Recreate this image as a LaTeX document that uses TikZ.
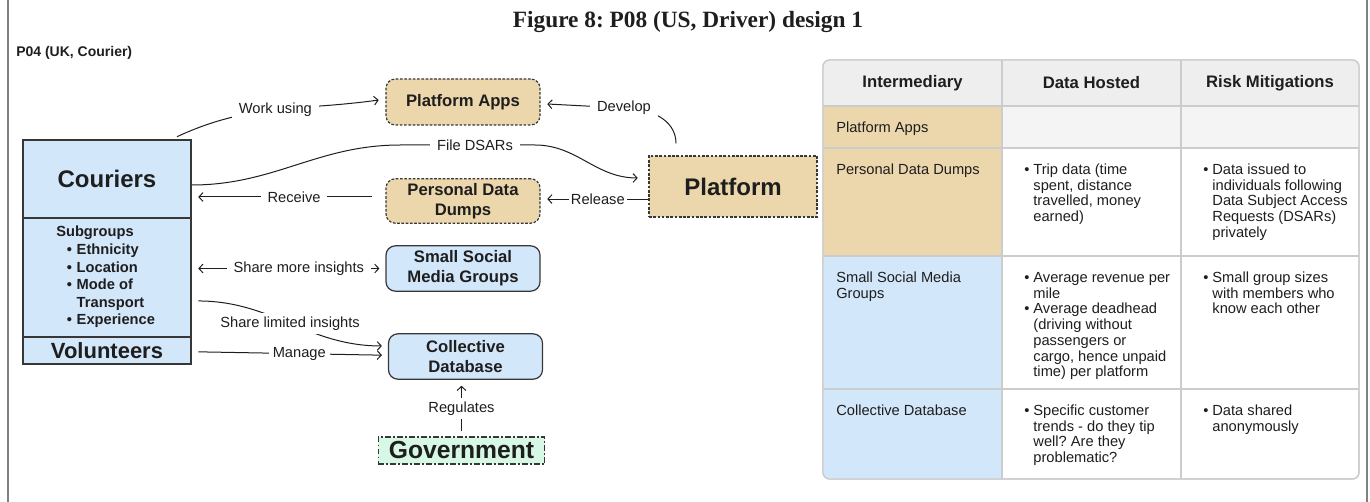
\documentclass[tikz,border=0pt]{standalone}
\usepackage{fontspec}
\setmainfont{Liberation Sans}
\newfontfamily\serifbold{Liberation Serif}
\usetikzlibrary{arrows.meta}
\frenchspacing

\definecolor{tanfill}{RGB}{236,214,172}
\definecolor{bluefill}{RGB}{211,231,250}
\definecolor{mintfill}{RGB}{214,248,228}
\definecolor{headgray}{RGB}{238,238,238}
\definecolor{rowgray}{RGB}{244,244,244}
\definecolor{gridgray}{RGB}{204,204,204}
\definecolor{ink}{RGB}{30,30,30}
\definecolor{boxline}{RGB}{55,55,55}

\begin{document}
\begin{tikzpicture}[x = 0.75pt, y = -0.75pt,
  >={Straight Barb[length=3pt, width=6.5pt]},
  link/.style = {->, line width=0.75pt, ink},
  twoway/.style = {<->, line width=0.75pt, ink},
  lbl/.style = {fill =white, inner xsep=5pt, inner ysep=3pt, text=ink, font=\fontsize{11}{13}\selectfont},
  tanbox/.style = {draw =boxline, line width=0.9pt, dash pattern=on 2pt off 1.2pt, fill =tanfill, text=ink, align=center, font=\fontsize{12.5}{15}\selectfont\bfseries},
  bluebox/.style = {draw =boxline, line width=0.9pt, fill =bluefill, rounded corners=7pt, text=ink, align=center, font=\fontsize{12.5}{15}\selectfont\bfseries, minimum width=115.5pt, minimum height=34pt},
  courbox/.style = {draw =boxline, line width=0.9pt, fill =bluefill, text=ink, minimum width=126pt, inner sep=0pt},
  headcell/.style = {text=ink, font=\fontsize{12.5}{14}\selectfont\bfseries},
  cell/.style = {anchor=base west, inner sep=0pt, text=ink, font=\fontsize{11}{11.8}\selectfont}]
\useasboundingbox (0,0) rectangle (1370,502);
\draw [gray, line width=1.5pt] (8,0) -- (8,502) (1367,0) -- (1367,502);

\node [text=ink, font=\serifbold\fontsize{17.5}{20}\selectfont\bfseries] (title) at (688,22) {Figure 8: P08 (US, Driver) design 1};
\node [anchor=west, inner sep=0pt, text=ink, font=\fontsize{10.5}{12}\selectfont\bfseries] (part) at (16,53) {P04 (UK, Courier)};

\node [courbox, minimum height=58.5pt, font=\fontsize{18}{20}\selectfont\bfseries] (cour) at (107,179) {Couriers};
\node [courbox, minimum height=89.25pt] (subg) at (107,277.5) {};
\node [courbox, minimum height=20.25pt, font=\fontsize{16.5}{18}\selectfont\bfseries] (vol) at (107,350.5) {Volunteers};
\node [anchor=base west, inner sep=0pt, text=ink, font=\fontsize{11}{13.2}\selectfont\bfseries] (subtxt) at (56,237) {\begin{tabular}[t]{@{\hspace{8pt}}l@{\hspace{3.5pt}}l@{}}
\multicolumn{2}{@{}l@{}}{Subgroups}\\
\textbullet & Ethnicity\\
\textbullet & Location\\
\textbullet & Mode of\\
 & Transport\\
\textbullet & Experience
\end{tabular}};

\node [tanbox, rounded corners=7pt, minimum width=115.5pt, minimum height=34.5pt] (apps) at (463,102) {Platform Apps};
\node [tanbox, rounded corners=7pt, minimum width=115.5pt, minimum height=33pt] (dumps) at (463,201) {Personal Data\\Dumps};
\node [tanbox, minimum width=126pt, minimum height=45.75pt, font=\fontsize{18}{20}\selectfont\bfseries] (plat) at (733,186.5) {Platform};
\node [bluebox] (social) at (463,268.5) {Small Social\\Media Groups};
\node [bluebox] (base) at (465.5,356.5) {Collective\\Database};
\node [draw =boxline, line width=0.8pt, dash pattern=on 4pt off 2pt on 1pt off 2pt, fill =mintfill, minimum width=125pt, minimum height=20.25pt, inner sep=0pt, text=ink, font=\fontsize{18.5}{20}\selectfont\bfseries] (gov) at (461.5,450.5) {Government};

\draw [link] ([xshift=52.5pt, yshift=2pt]cour.north) to [out=25, in=188] node [lbl] (worklbl) {Work using} ([xshift=-5pt, yshift=1.5pt]apps.west);
\coordinate (dsar) at (475,145);
\draw [link] ([yshift=-4.5pt]cour.east) to [out=0, in=180] ([xshift=-56pt]dsar) -- ([xshift=45pt]dsar) to [out=0, in=180] ([xshift=-8pt, yshift=6.4pt]plat.west);
\node [lbl] (dsarlbl) at (dsar) {File DSARs};
\coordinate (recv) at ([xshift=-9.75pt, yshift=3pt]dumps.west);
\draw [link] (recv) -- node [lbl, pos=0.45] (recvlbl) {Receive} ([xshift=5pt]cour.east |- recv);
\coordinate (rel) at ([yshift=-9.4pt]plat.west);
\draw [link] (rel) -- node [lbl, inner xsep=1.5pt] (rellbl) {Release} ([xshift=5pt]dumps.east |- rel);
\coordinate (dev) at (624,108);
\draw [link] ([xshift=-42.75pt, yshift=9pt]plat.north) to [out=90, in=0] (dev) -- ([xshift=5pt, yshift=-1.5pt]apps.east);
\node [lbl] (devlbl) at (dev) {Develop};
\draw [twoway] ([xshift=5pt]subg.east |- social.west) -- node [lbl, pos=0.555] (morelbl) {Share more insights} ([xshift=-4.5pt]social.west);
\draw [link] ([xshift=5pt, yshift=-17.6pt]subg.east) to [out=0, in=180] node [lbl] (limlbl) {Share limited insights} ([xshift=-4.5pt, yshift=7.9pt]base.west);
\draw [link] ([xshift=5pt, yshift=-1pt]vol.east) -- node [lbl, inner xsep=3pt, pos=0.55] (manlbl) {Manage} ([xshift=-4.5pt, yshift=1pt]base.west);
\draw [link] ([yshift=3.75pt]gov.north) -- node [lbl] (reglbl) {Regulates} ([yshift=-4.5pt]base.south -| gov.north);

\draw [fill =white, draw =gridgray, line width=1pt, rounded corners=5pt] (823,60) rectangle (1359,479);
\begin{scope}
\clip [rounded corners=5pt] (823,60) rectangle (1359,479);
\fill [headgray] (823,60) rectangle (1359,106);
\fill [rowgray] (1002,106) rectangle (1359,148);
\fill [tanfill] (823,106) rectangle (1002,256);
\fill [bluefill] (823,256) rectangle (1002,479);
\end{scope}
\foreach \y in {106,148,256,389} \draw [gridgray, line width=1pt] (823,\y) -- (1359,\y);
\foreach \x in {1002,1181} \draw [gridgray, line width=1pt] (\x,60) -- (\x,479);
\draw [gridgray, line width=1pt, rounded corners=5pt] (823,60) rectangle (1359,479);

\node [headcell] (hint) at (912.5,83) {Intermediary};
\node [headcell] (hdata) at (1091.5,83) {Data Hosted};
\node [headcell] (hrisk) at (1270,83) {Risk Mitigations};

\node [cell] (capps) at (836,132.5) {Platform Apps};
\node [cell] (cdumps) at (836,174.5) {Personal Data Dumps};
\node [cell] (ddumps) at (1024,174.5) {\begin{tabular}[t]{@{}l@{\hspace{3pt}}l@{}}
\textbullet & Trip data (time\\ & spent, distance\\ & travelled, money\\ & earned)\end{tabular}};
\node [cell] (rdumps) at (1203,174.5) {\begin{tabular}[t]{@{}l@{\hspace{3pt}}l@{}}
\textbullet & Data issued to\\ & individuals following\\ & Data Subject Access\\ & Requests (DSARs)\\ & privately\end{tabular}};
\node [cell] (csocial) at (836,282.5) {\begin{tabular}[t]{@{}l@{}}Small Social Media\\Groups\end{tabular}};
\node [cell] (dsocial) at (1024,282.5) {\begin{tabular}[t]{@{}l@{\hspace{3pt}}l@{}}
\textbullet & Average revenue per\\ & mile\\
\textbullet & Average deadhead\\ & (driving without\\ & passengers or\\ & cargo, hence unpaid\\ & time) per platform\end{tabular}};
\node [cell] (rsocial) at (1203,282.5) {\begin{tabular}[t]{@{}l@{\hspace{3pt}}l@{}}
\textbullet & Small group sizes\\ & with members who\\ & know each other\end{tabular}};
\node [cell] (cbase) at (836,415.5) {Collective Database};
\node [cell] (dbase) at (1024,415.5) {\begin{tabular}[t]{@{}l@{\hspace{3pt}}l@{}}
\textbullet & Specific customer\\ & trends - do they tip\\ & well? Are they\\ & problematic?\end{tabular}};
\node [cell] (rbase) at (1203,415.5) {\begin{tabular}[t]{@{}l@{\hspace{3pt}}l@{}}
\textbullet & Data shared\\ & anonymously\end{tabular}};
\end{tikzpicture}
\end{document}
